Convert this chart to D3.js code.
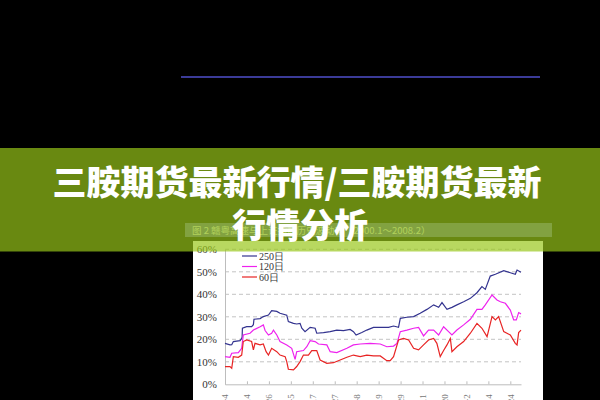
<!DOCTYPE html>
<html><head><meta charset="utf-8">
<script src="https://cdn.jsdelivr.net/npm/d3@7"></script>
<style>html,body{margin:0;padding:0;background:#000;}svg{display:block}</style>
</head><body>
<svg id="c" width="600" height="400"></svg>
<script>
// ---- data (trading-day index, volatility %) ----
const days250 = [0,34,46,57,103,114,117,119,148,182,194,198,240,262,297,319,354,376,422,433,468,490,513,525,547,582,616,627,673,719,764,810,855,878,896,935,969,1015,1061,1118,1152,1186,1198,1243,1289,1334,1380,1426,1460,1483,1517,1551,1585,1631,1677,1722,1756,1779,1813,1848,1905,1950,1984,1996,2023];
const vol250 = [18.2,17.5,17.6,19.0,19.4,20.4,21.0,24.9,25.6,25.6,26.5,28.9,29.2,30.1,30.8,32.7,32.4,31.6,30.7,27.9,27.1,26.8,27.1,24.9,23.4,25.3,24.9,22.7,23.0,23.4,24.1,23.9,24.4,23.4,21.9,23.0,24.1,25.3,25.3,25.3,25.9,25.3,29.3,29.8,30.1,31.6,33.3,35.3,34.2,36.3,33.3,34.2,35.3,36.7,38.2,40.7,43.4,42.2,48.1,48.9,50.5,49.6,48.9,50.8,49.8];
const days120 = [0,34,46,91,114,125,171,194,240,262,274,297,319,331,354,376,422,456,479,490,536,559,582,616,639,696,719,764,833,878,924,992,1061,1106,1152,1175,1198,1243,1289,1323,1357,1391,1426,1460,1494,1528,1551,1585,1631,1677,1722,1756,1779,1825,1859,1882,1916,1950,1973,1991,2007,2023];
const vol120 = [12.3,12.0,13.8,14.1,16.0,21.9,22.7,24.1,25.6,26.4,23.9,21.9,22.7,24.1,21.9,19.0,17.5,16.0,11.1,14.5,15.0,16.7,19.4,19.0,17.9,17.5,14.5,14.1,16.0,17.5,17.9,18.2,17.9,16.7,17.0,18.2,23.4,24.1,24.9,25.3,21.5,24.1,24.1,21.9,25.6,23.4,21.9,24.1,26.4,28.9,33.3,33.3,35.3,39.7,37.5,36.7,36.0,33.0,28.6,28.6,31.9,31.3];
const days60 = [0,34,46,57,91,114,125,148,182,194,205,240,262,281,297,319,354,376,411,422,433,468,490,513,536,570,593,627,650,696,741,787,833,878,924,969,1015,1061,1106,1129,1152,1186,1220,1255,1289,1323,1357,1391,1426,1448,1471,1494,1517,1540,1551,1585,1631,1677,1722,1756,1791,1825,1848,1870,1905,1950,1984,1996,2007,2023];
const vol60 = [7.9,7.9,7.1,12.3,12.0,13.0,19.0,19.7,19.0,15.3,18.2,17.5,17.9,14.5,13.0,16.0,14.5,13.0,12.3,10.1,6.7,6.4,7.9,10.1,13.0,13.0,15.0,15.0,10.8,9.3,9.6,10.8,12.0,13.0,12.3,13.0,12.6,12.6,10.5,10.5,12.3,19.7,20.4,19.7,16.0,15.3,17.5,19.7,20.4,18.2,12.3,15.0,17.5,20.4,14.5,16.7,19.0,22.7,27.1,24.9,21.2,30.1,28.6,30.1,23.4,21.9,18.2,17.5,23.0,24.1];
const seriesNames = ["250日","120日","60日"];
const seriesColors = ["#33338f","#ee22ee","#e82424"];
const yTicks = [0,10,20,30,40,50,60];
const xTickDays = [0,150,300,450,600,750,900,1050,1200,1350,1500,1650,1800,1950];
const xTickLabels = ["2000-1-4","2000-8-14","2001-3-26","2001-11-5","2002-6-17","2003-1-27","2003-9-8","2004-4-19","2004-11-29","2005-7-11","2006-2-20","2006-10-2","2007-5-14","2007-12-24"];
const chartTitle = "图 2  赣粤高速与上证指数历史波动率（2000.1～2008.2）";
const bannerLines = ["三胺期货最新行情/三胺期货最新","行情分析"];

const svg = d3.select('#c');
svg.append('rect').attr('width',600).attr('height',400).attr('fill','#000');
// header rule
svg.append('line').attr('x1',181).attr('x2',540).attr('y1',77).attr('y2',77)
  .attr('stroke','#3b3b98').attr('stroke-width',2);
// chart title band
svg.append('rect').attr('x',185).attr('y',223).attr('width',367).attr('height',14).attr('fill','#50509a');
svg.append('text').attr('x',192).attr('y',234).attr('font-size',9.5)
  .attr('font-family','"Noto Sans CJK SC", sans-serif').attr('fill','#e6e6e6')
  .text(chartTitle);
// chart background
svg.append('rect').attr('x',193).attr('y',241).attr('width',350).attr('height',159).attr('fill','#fff');

const x = d3.scaleLinear().domain([0,2023]).range([225,521]);
const y = d3.scaleLinear().domain([0,60]).range([384.3,249.3]);

// grid
svg.append('g').selectAll('line').data(yTicks.filter(d=>d>0)).join('line')
  .attr('x1',x(0)).attr('x2',x(2023)).attr('y1',d=>y(d)).attr('y2',d=>y(d))
  .attr('stroke','#c4c4c4').attr('stroke-dasharray','4,3').attr('stroke-width',1);

// y axis
const ya = svg.append('g').attr('transform',`translate(${x(0)},0)`)
  .call(d3.axisLeft(y).tickValues(yTicks).tickFormat(d=>d+'%').tickSize(0).tickPadding(8));
ya.select('.domain').attr('stroke','#bdbdbd');
ya.selectAll('text').attr('font-family','"Liberation Serif", serif').attr('font-size',11).attr('fill','#333');

// x axis
const xa = svg.append('g').attr('transform',`translate(0,${y(0)})`)
  .call(d3.axisBottom(x).tickValues(xTickDays).tickFormat((d,i)=>xTickLabels[i]).tickSizeInner(-3).tickSizeOuter(0));
xa.select('.domain').attr('stroke','#bdbdbd');
xa.selectAll('.tick line').attr('stroke','#bdbdbd');
xa.selectAll('text').attr('font-family','"Liberation Serif", serif').attr('font-size',9).attr('fill','#777')
  .attr('transform','rotate(-90)').attr('text-anchor','end').attr('dy','0.32em').attr('x',-10).attr('y',0);

// lines
const line = d3.line().x(d=>x(d[0])).y(d=>y(d[1]));
const series = [d3.zip(days250,vol250), d3.zip(days120,vol120), d3.zip(days60,vol60)];
svg.append('g').selectAll('path').data(series).join('path')
  .attr('d',line).attr('fill','none').attr('stroke',(d,i)=>seriesColors[i]).attr('stroke-width',1.2);

// legend
const lg = svg.append('g').selectAll('g').data(seriesNames).join('g')
  .attr('transform',(d,i)=>`translate(242,${256+i*10.5})`);
lg.append('line').attr('x1',0).attr('x2',15).attr('stroke',(d,i)=>seriesColors[i]).attr('stroke-width',1.2);
lg.append('text').attr('x',17).attr('dy','0.35em').attr('font-size',10)
  .attr('font-family','"Liberation Serif", serif').attr('fill','#333').text(d=>d);

// overlay banner
svg.append('rect').attr('x',0).attr('y',148).attr('width',600).attr('height',103.5)
  .attr('fill','rgb(152,198,24)').attr('fill-opacity',0.69);
svg.append('g').selectAll('text').data(bannerLines).join('text')
  .attr('x',(d,i)=>i===0?297:300).attr('y',(d,i)=>180+i*43)
  .attr('text-anchor','middle').attr('dominant-baseline','central')
  .attr('font-family','"Noto Sans CJK SC", sans-serif').attr('font-weight',900)
  .attr('font-size',34).attr('fill','#fff').text(d=>d);
</script>
</body></html>
